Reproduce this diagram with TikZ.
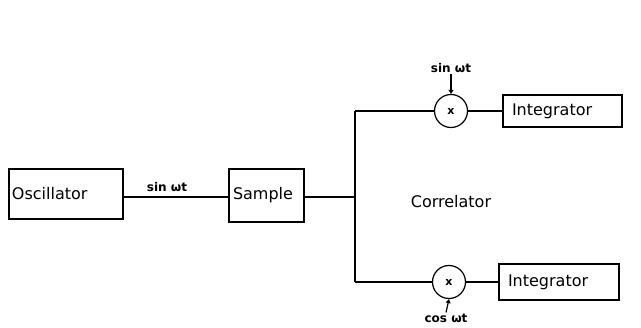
\documentclass[tikz,border=0pt]{standalone}
\usepackage{fontspec}
\setmainfont{DejaVu Sans}
\usetikzlibrary{arrows.meta}
\begin{document}
\begin{tikzpicture}[x=1pt,y=-1pt,
  blk/.style={draw,line width=1.2pt,inner ysep=0pt,align=left,
    font=\fontsize{16}{19}\selectfont},
  mult/.style={draw,circle,line width=1.2pt,minimum size=33pt,inner sep=0pt,
    font=\fontsize{11}{13}\selectfont\bfseries},
  lbl/.style={font=\fontsize{12}{14}\selectfont\bfseries,inner sep=1pt},
  wire/.style={line width=1.2pt},
  inarr/.style={line width=1.2pt,-{Triangle[length=4pt,width=5pt]}}]
\useasboundingbox (0,0) rectangle (641,328);
% blocks
\node[blk,minimum height=50pt,text width=108pt,inner xsep=3pt] (osc) at (66,194) {Oscillator};
\node[blk,minimum height=53pt,text width=67pt,inner xsep=4pt] (smp) at (266.5,195.5) {Sample};
\node[blk,minimum height=32pt,text width=101pt,inner xsep=9pt] (int1) at (562.5,111) {Integrator};
\node[blk,minimum height=36pt,text width=102pt,inner xsep=9pt] (int2) at (559,282) {Integrator};
% multipliers
\node[mult] (m1) at (451,111) {x};
\node[mult] (m2) at (449,282) {x};
% junction
\coordinate (jt) at (355,111);
\coordinate (jb) at (355,282);
\coordinate (jm) at (355,197);
% texts
\node[font=\fontsize{16}{19}\selectfont] (cor) at (451,202) {Correlator};
\node[lbl] (s1) at (167,187) {sin ωt};
\node[lbl] (s2) at (451,68) {sin ωt};
\node[lbl] (c2) at (446,318) {cos ωt};
% wires
\draw[wire] (osc.east |- jm) -- (smp.west |- jm);
\draw[wire] (smp.east |- jm) -- (jm);
\draw[wire] (jt) -- (jb);
\draw[wire] (jt) -- (m1.west);
\draw[wire] (jb) -- (m2.west);
\draw[wire] (m1.east) -- (int1.west);
\draw[wire] (m2.east) -- (int2.west);
\draw[inarr] (s2.south) -- (m1.north);
\draw[inarr] (c2.north) -- (m2.south);
\end{tikzpicture}
\end{document}
